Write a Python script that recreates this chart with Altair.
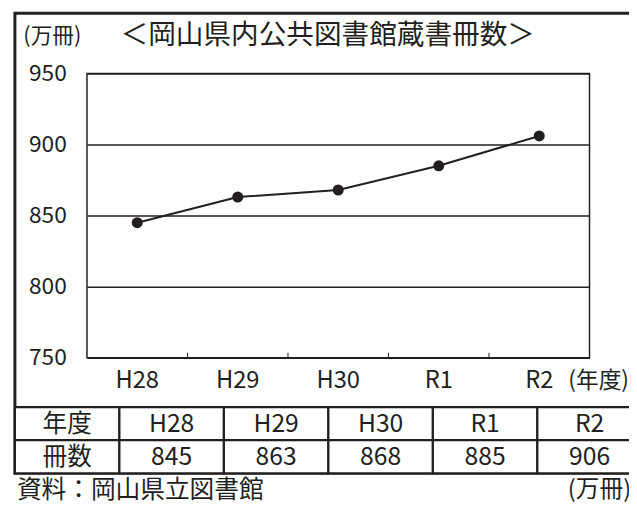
import altair as alt
import pandas as pd

# ---- data ----
years = ["H28", "H29", "H30", "R1", "R2"]
counts = [845, 863, 868, 885, 906]
y_ticks = [750, 800, 850, 900, 950]
table_header = ["年度"] + years
table_values = ["冊数"] + [str(v) for v in counts]
row_names = ["年度", "冊数"]
title_text = "＜岡山県内公共図書館蔵書冊数＞"
y_unit = "(万冊)"
x_unit = "(年度)"
source_text = "資料：岡山県立図書館"
table_unit = "(万冊)"

INK = "#231f20"
FONT = "Noto Sans CJK JP"
W, H = 509, 288

df = pd.DataFrame({"year": years, "count": counts})
tick_df = pd.DataFrame({"year": years[1:]})
cells = pd.DataFrame({
    "col": table_header * 2,
    "row": [row_names[0]] * len(table_header) + [row_names[1]] * len(table_header),
    "text": table_header + table_values,
})
one = alt.InlineData(values=[{"k": 0}])

xs = alt.Scale(type="band", domain=years, paddingInner=0, paddingOuter=0)
ys = alt.Scale(domain=[750, 950], nice=False, zero=False)

x_axis = alt.Axis(
    title=x_unit, labelAngle=0, labelFontSize=24, labelPadding=23,
    labelBaseline="middle", ticks=False, tickSize=0, domain=False, grid=False,
    titleX=487, titleY=23, titleAlign="left", titleBaseline="middle",
    titleFontSize=23, titleFontWeight="normal", titleAngle=0,
)
y_axis = alt.Axis(
    title=y_unit, titleAngle=0, titleX=-65, titleY=-38, titleAlign="left",
    titleBaseline="middle", titleFontSize=22, titleFontWeight="normal",
    values=y_ticks, labelFontSize=23, labelPadding=21, ticks=False, tickSize=0,
    domain=False, grid=True, gridColor=INK, gridWidth=1.5, gridOpacity=1,
)

X = alt.X("year:N", scale=xs, axis=x_axis, sort=years)
Y = alt.Y("count:Q", scale=ys, axis=y_axis)

line = alt.Chart(df).mark_line(color=INK, strokeWidth=2).encode(x=X, y=Y)
pts = alt.Chart(df).mark_circle(size=125, color=INK, opacity=1).encode(x=X, y=Y)
ticks = alt.Chart(tick_df).mark_rule(color=INK, strokeWidth=1).encode(
    x=alt.X("year:N", scale=xs, axis=x_axis, sort=years, bandPosition=0),
    y=alt.value(H), y2=alt.value(H - 5),
)
plot = alt.layer(ticks, line, pts)

tx = alt.Scale(type="band", domain=table_header, range=[-73, 562], paddingInner=0, paddingOuter=0)
ty = alt.Scale(type="band", domain=row_names, range=[338, 405], paddingInner=0, paddingOuter=0)
cell_rect = alt.Chart(cells).mark_rect(fill="white", stroke=INK, strokeWidth=2.2).encode(
    x=alt.X("col:N", scale=tx, axis=None, sort=table_header),
    y=alt.Y("row:N", scale=ty, axis=None, sort=row_names),
)
cell_text = alt.Chart(cells).mark_text(font=FONT, fontSize=25, color=INK, baseline="middle").encode(
    x=alt.X("col:N", scale=tx, axis=None, sort=table_header),
    y=alt.Y("row:N", scale=ty, axis=None, sort=row_names),
    text="text:N",
)
table = alt.layer(cell_rect, cell_text)

frame = alt.Chart(one).mark_rect(fill="white", fillOpacity=0, stroke=INK, strokeWidth=3).encode(
    x=alt.value(-73), x2=alt.value(700), y=alt.value(-61), y2=alt.value(405)
)
title_mark = alt.Chart(one).mark_text(
    text=title_text, font=FONT, fontSize=28, color=INK, align="left", baseline="middle"
).encode(x=alt.value(34), y=alt.value(-38))
source_mark = alt.Chart(one).mark_text(
    text=source_text, font=FONT, fontSize=25, color=INK, align="left", baseline="middle"
).encode(x=alt.value(-71), y=alt.value(422))
unit_mark = alt.Chart(one).mark_text(
    text=table_unit, font=FONT, fontSize=24, color=INK, align="left", baseline="middle"
).encode(x=alt.value(487), y=alt.value(422))

chart = alt.layer(frame, table, plot, title_mark, source_mark, unit_mark).resolve_scale(
    x="independent", y="independent"
).properties(
    width=W, height=H,
    padding={"left": 80, "top": 63, "right": 40, "bottom": 153},
    autosize=alt.AutoSizeParams(type="none"),
).configure_view(
    stroke=INK, strokeWidth=1.5
).configure_axis(
    labelFont=FONT, titleFont=FONT, labelColor=INK, titleColor=INK
)

chart.save("out.html", embed_options={"renderer": "svg", "actions": False})
